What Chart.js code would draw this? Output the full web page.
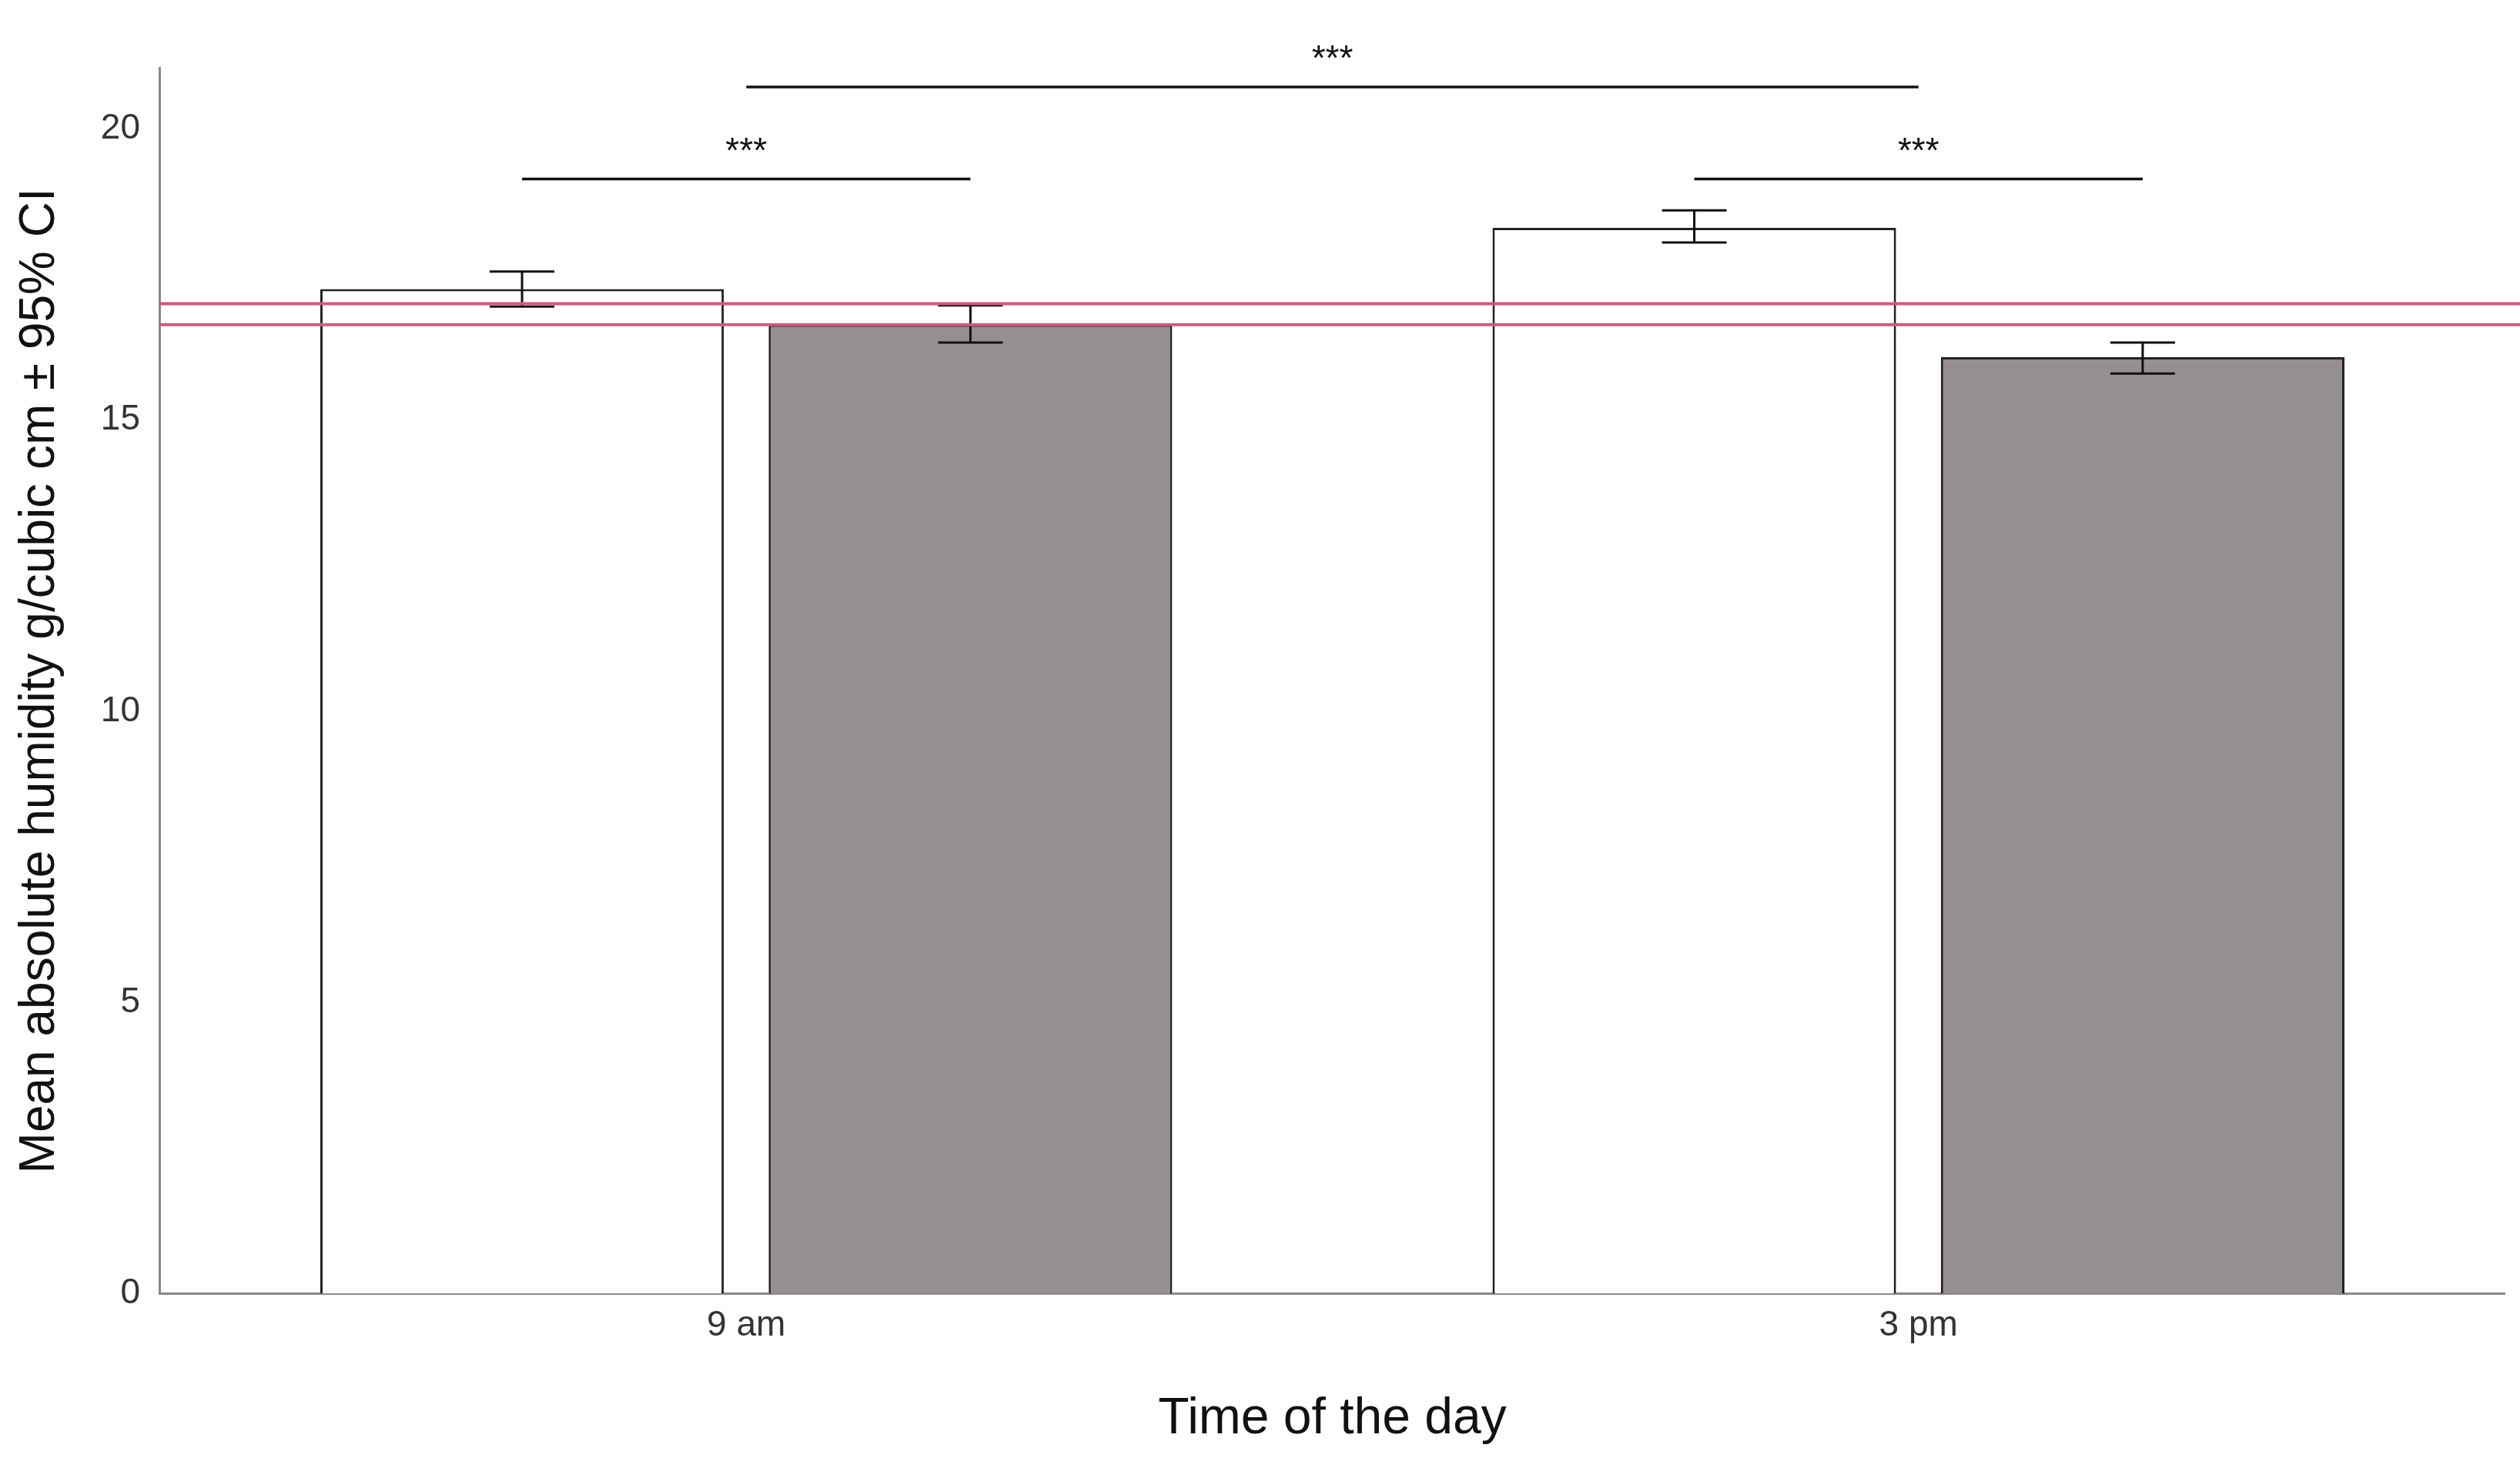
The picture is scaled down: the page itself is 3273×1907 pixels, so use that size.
<!DOCTYPE html><html><head><meta charset="utf-8">
<script src="https://cdn.jsdelivr.net/npm/chart.js@4/dist/chart.umd.min.js"></script>
<style>html,body{margin:0;background:#fff}#w{width:3273px;height:1907px}</style></head><body>
<div id="w"><canvas id="c"></canvas></div>
<script>
const categories = ['9 am', '3 pm'];
const seriesA = [17.25, 18.3];       // white bars
const seriesB = [16.64, 16.08];      // grey bars
const ciA = [[16.95, 17.55], [18.05, 18.6]];
const ciB = [[16.33, 16.97], [15.8, 16.33]];
const refLines = [17.0, 16.64];
const yTicks = [0, 5, 10, 15, 20];
const sigLabel = '***';

const F = 'Liberation Sans, Arial, sans-serif';
const extras = {
  id: 'extras',
  afterDatasetsDraw(chart) {
    const ctx = chart.ctx, y = chart.scales.y, a = chart.chartArea;
    // error bars
    ctx.save();
    ctx.strokeStyle = '#111'; ctx.lineWidth = 3;
    [ciA, ciB].forEach((ci, d) => {
      chart.getDatasetMeta(d).data.forEach((bar, i) => {
        const x = bar.x, hw = 42, lo = y.getPixelForValue(ci[i][0]), hi = y.getPixelForValue(ci[i][1]);
        ctx.beginPath();
        ctx.moveTo(x, lo); ctx.lineTo(x, hi);
        ctx.moveTo(x - hw, lo); ctx.lineTo(x + hw, lo);
        ctx.moveTo(x - hw, hi); ctx.lineTo(x + hw, hi);
        ctx.stroke();
      });
    });
    // reference lines
    ctx.strokeStyle = '#d4587c'; ctx.lineWidth = 4;
    refLines.forEach(v => { const py = y.getPixelForValue(v); ctx.beginPath(); ctx.moveTo(a.left, py); ctx.lineTo(chart.width, py); ctx.stroke(); });
    // significance
    const mA = chart.getDatasetMeta(0).data, mB = chart.getDatasetMeta(1).data, xs = chart.scales.x;
    ctx.strokeStyle = '#111'; ctx.lineWidth = 3.5; ctx.fillStyle = '#111';
    ctx.font = '46px ' + F; ctx.textAlign = 'center'; ctx.textBaseline = 'alphabetic';
    const sig = (x1, x2, v) => {
      const py = y.getPixelForValue(v);
      ctx.beginPath(); ctx.moveTo(x1, py); ctx.lineTo(x2, py); ctx.stroke();
      ctx.fillText(sigLabel, (x1 + x2) / 2, py - 22);
    };
    sig(mA[0].x, mB[0].x, 19.14);
    sig(mA[1].x, mB[1].x, 19.14);
    sig(xs.getPixelForValue(0), xs.getPixelForValue(1), 20.72);
    ctx.restore();
  }
};

new Chart(document.getElementById('c'), {
  type: 'bar',
  data: { labels: categories, datasets: [
    { data: seriesA, backgroundColor: '#ffffff', borderColor: '#222', borderWidth: 3 },
    { data: seriesB, backgroundColor: '#968f8f', borderColor: '#222', borderWidth: 3 }
  ]},
  options: {
    responsive: true, maintainAspectRatio: false, animation: false,
    devicePixelRatio: 1,
    layout: { padding: { top: 88, right: 20, left: 10, bottom: 20 } },
    plugins: { legend: { display: false }, tooltip: { enabled: false } },
    datasets: { bar: { categoryPercentage: 0.765, barPercentage: 0.9 } },
    scales: {
      x: {
        grid: { display: false, drawTicks: false },
        border: { color: '#888', width: 3 },
        ticks: { font: { family: F, size: 46 }, color: '#333', padding: 14 },
        title: { display: true, text: 'Time of the day', font: { family: F, size: 66 }, color: '#111', padding: { top: 40 } }
      },
      y: {
        min: 0, max: 21.05,
        afterBuildTicks: s => { s.ticks = yTicks.map(v => ({ value: v })); },
        grid: { display: false, drawTicks: true, tickLength: 16, tickColor: '#888' },
        border: { color: '#888', width: 3 },
        ticks: { font: { family: F, size: 46 }, color: '#333', padding: 10 },
        title: { display: true, text: 'Mean absolute humidity g/cubic cm ± 95% CI', font: { family: F, size: 64 }, color: '#111', padding: { bottom: 30 } }
      }
    }
  },
  plugins: [extras]
});
</script></body></html>
